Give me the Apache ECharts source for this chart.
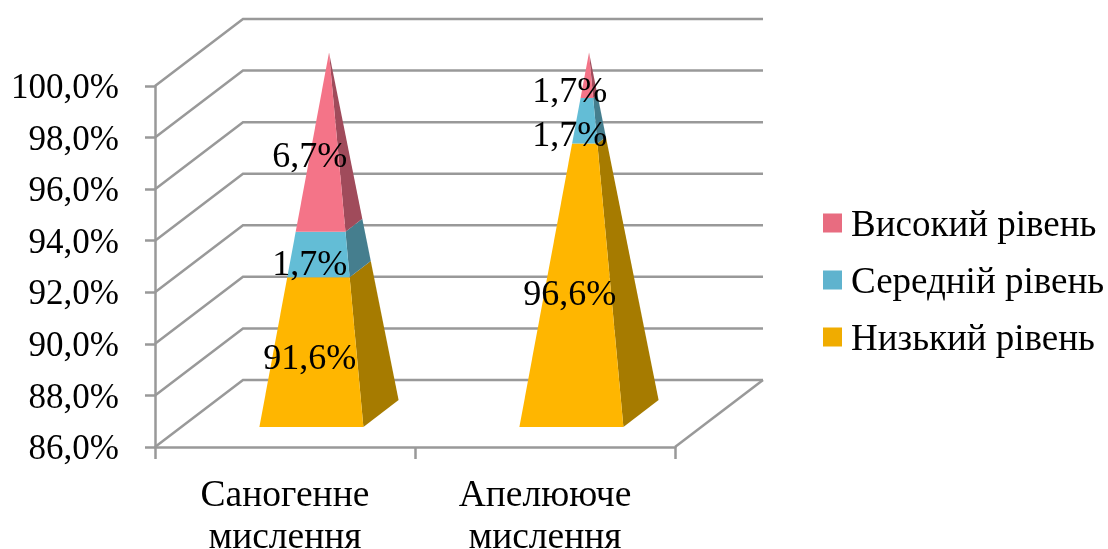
<!DOCTYPE html>
<html>
<head>
<meta charset="utf-8">
<style>html,body{margin:0;padding:0;background:#fff}#chart{width:1108px;height:549px}</style>
<script src="https://cdn.jsdelivr.net/npm/echarts@6/dist/echarts.min.js"></script>
</head>
<body>
<div id="chart"></div>
<script>
// Stacked 3D pyramids: each segment is a slice of one pyramid spanning the axis range.
const categories = ['Саногенне\nмислення', 'Апелююче\nмислення'];
const lowLevel = [91.6, 96.6];
const midLevel = [1.7, 1.7];
const highLevel = [6.7, 1.7];
const tickValues = [86, 88, 90, 92, 94, 96, 98, 100];

const seriesNames = ['Низький рівень', 'Середній рівень', 'Високий рівень'];
const frontColors = ['#FFB600', '#63BDD6', '#F47488'];
const sideColors = ['#A67B00', '#457E8E', '#A04B5B'];
const legendColors = ['#F0AC00', '#5FB3CE', '#E86C80'];

const FONT = 'Liberation Serif';
const AXIS_FONT_SIZE = 35;
const LABEL_FONT_SIZE = 36;
const CATEGORY_FONT_SIZE = 37.5;
const LEGEND_FONT_SIZE = 37;
const GRID_COLOR = '#999999';
const GRID_WIDTH = 2.5;
const AXIS_MIN = 86, AXIS_MAX = 100;

// Oblique projection of the depth direction, in pixels for the full floor depth.
const DEPTH_X = 88, DEPTH_Y = -67;
const BASE_WIDTH = 0.4;   // share of a category band
const BASE_DEPTH = 0.4;   // share of the floor depth
const LABEL_DEPTH = 0.27;

function project(api, cat, shift, value, depth) {
  const p = api.coord([cat, value]);
  const band = api.size([1, 0])[0];
  return [p[0] + shift * band + depth * DEPTH_X, p[1] + depth * DEPTH_Y];
}

function sliceCorners(api, cat, value) {
  const rest = 1 - (value - AXIS_MIN) / (AXIS_MAX - AXIS_MIN);
  const hw = BASE_WIDTH / 2 * rest;
  const hd = BASE_DEPTH / 2 * rest;
  return {
    fl: project(api, cat, -hw, value, 0.5 - hd),
    fr: project(api, cat, hw, value, 0.5 - hd),
    br: project(api, cat, hw, value, 0.5 + hd)
  };
}

function renderSegment(params, api) {
  const cat = api.value(0), from = api.value(1), to = api.value(2), own = api.value(3);
  const idx = params.seriesIndex - 1;
  const a = sliceCorners(api, cat, from);
  const b = sliceCorners(api, cat, to);
  const labelPos = project(api, cat, 0, (from + to) / 2, LABEL_DEPTH);
  return {
    type: 'group',
    children: [
      { type: 'polygon', shape: { points: [a.fr, a.br, b.br, b.fr] }, style: { fill: sideColors[idx] } },
      { type: 'polygon', shape: { points: [a.fl, a.fr, b.fr, b.fl] }, style: { fill: frontColors[idx] } },
      {
        type: 'text', z2: 100, x: labelPos[0] + 1, y: labelPos[1] + 3,
        style: {
          text: own.toFixed(1).replace('.', ',') + '%',
          font: LABEL_FONT_SIZE + 'px "' + FONT + '"',
          fill: '#000', align: 'center', verticalAlign: 'middle'
        }
      }
    ]
  };
}

// Side wall diagonals and back wall rules, one per axis tick.
function renderWall(params, api) {
  const v = api.value(0);
  const a = project(api, 0, -0.5, v, 0);
  const b = project(api, 0, -0.5, v, 1);
  const c = project(api, 0, categories.length - 0.5, v, 1);
  return {
    type: 'polyline',
    shape: { points: [a, b, c] },
    style: { stroke: GRID_COLOR, lineWidth: GRID_WIDTH, fill: null }
  };
}

// Right edge of the floor.
function renderFloorEdge(params, api) {
  const a = project(api, 0, categories.length - 0.5, AXIS_MIN, 0);
  const b = project(api, 0, categories.length - 0.5, AXIS_MIN, 1);
  return {
    type: 'line',
    shape: { x1: a[0], y1: a[1], x2: b[0], y2: b[1] },
    style: { stroke: GRID_COLOR, lineWidth: GRID_WIDTH }
  };
}

const stacks = [lowLevel, midLevel, highLevel];
const running = categories.map(() => AXIS_MIN);
const segmentSeries = stacks.map((values, s) => {
  const base = s === 0 ? categories.map(() => AXIS_MIN) : running.slice();
  const data = categories.map((c, i) => {
    const from = base[i];
    const to = s === 0 ? values[i] : from + values[i];
    running[i] = to;
    return [i, from, to, values[i]];
  });
  return {
    name: seriesNames[s],
    type: 'custom',
    coordinateSystem: 'cartesian2d',
    renderItem: renderSegment,
    encode: { x: 0, y: 2 },
    itemStyle: { color: legendColors[s] },
    clip: false,
    z: 3,
    data
  };
});

const option = {
  animation: false,
  backgroundColor: '#fff',
  grid: { left: 155, right: 433, top: 86, bottom: 102, outerBoundsMode: 'none' },
  xAxis: {
    type: 'category',
    data: categories,
    boundaryGap: true,
    axisLine: { lineStyle: { color: GRID_COLOR, width: GRID_WIDTH } },
    axisTick: { show: true, length: 12, alignWithLabel: false, lineStyle: { color: GRID_COLOR, width: GRID_WIDTH } },
    axisLabel: { interval: 0, color: '#000', fontFamily: FONT, fontSize: CATEGORY_FONT_SIZE, lineHeight: 42, margin: 28 }
  },
  yAxis: {
    type: 'value',
    min: AXIS_MIN,
    max: AXIS_MAX,
    interval: 2,
    splitLine: { show: false },
    axisLine: { show: true, lineStyle: { color: GRID_COLOR, width: GRID_WIDTH } },
    axisTick: { show: true, length: 10, lineStyle: { color: GRID_COLOR, width: GRID_WIDTH } },
    axisLabel: {
      color: '#000', fontFamily: FONT, fontSize: AXIS_FONT_SIZE, margin: 36,
      verticalAlign: 'top', lineHeight: 6,
      formatter: v => v.toFixed(1).replace('.', ',') + '%'
    }
  },
  legend: {
    orient: 'vertical',
    left: 818,
    top: 201,
    itemWidth: 19,
    itemHeight: 25,
    itemGap: 17,
    // Square swatch sitting at the top of a taller icon box, level with the text x-height.
    icon: 'path://M0,0H19V19H0Z M0,25L19,25',
    selectedMode: false,
    textStyle: { color: '#000', fontFamily: FONT, fontSize: LEGEND_FONT_SIZE, lineHeight: 40, padding: [0, 0, 0, 4] },
    data: ['Високий рівень', 'Середній рівень', 'Низький рівень']
  },
  series: [
    {
      name: 'grid',
      type: 'custom',
      coordinateSystem: 'cartesian2d',
      renderItem: renderWall,
      encode: { y: 0 },
      clip: false,
      silent: true,
      z: 1,
      data: tickValues.map(v => [v])
    }
  ].concat(segmentSeries).concat([
    {
      name: 'floor',
      type: 'custom',
      coordinateSystem: 'cartesian2d',
      renderItem: renderFloorEdge,
      encode: { y: 0 },
      clip: false,
      silent: true,
      z: 1,
      data: [[AXIS_MIN]]
    }
  ])
};

echarts.init(document.getElementById('chart')).setOption(option);
</script>
</body>
</html>
